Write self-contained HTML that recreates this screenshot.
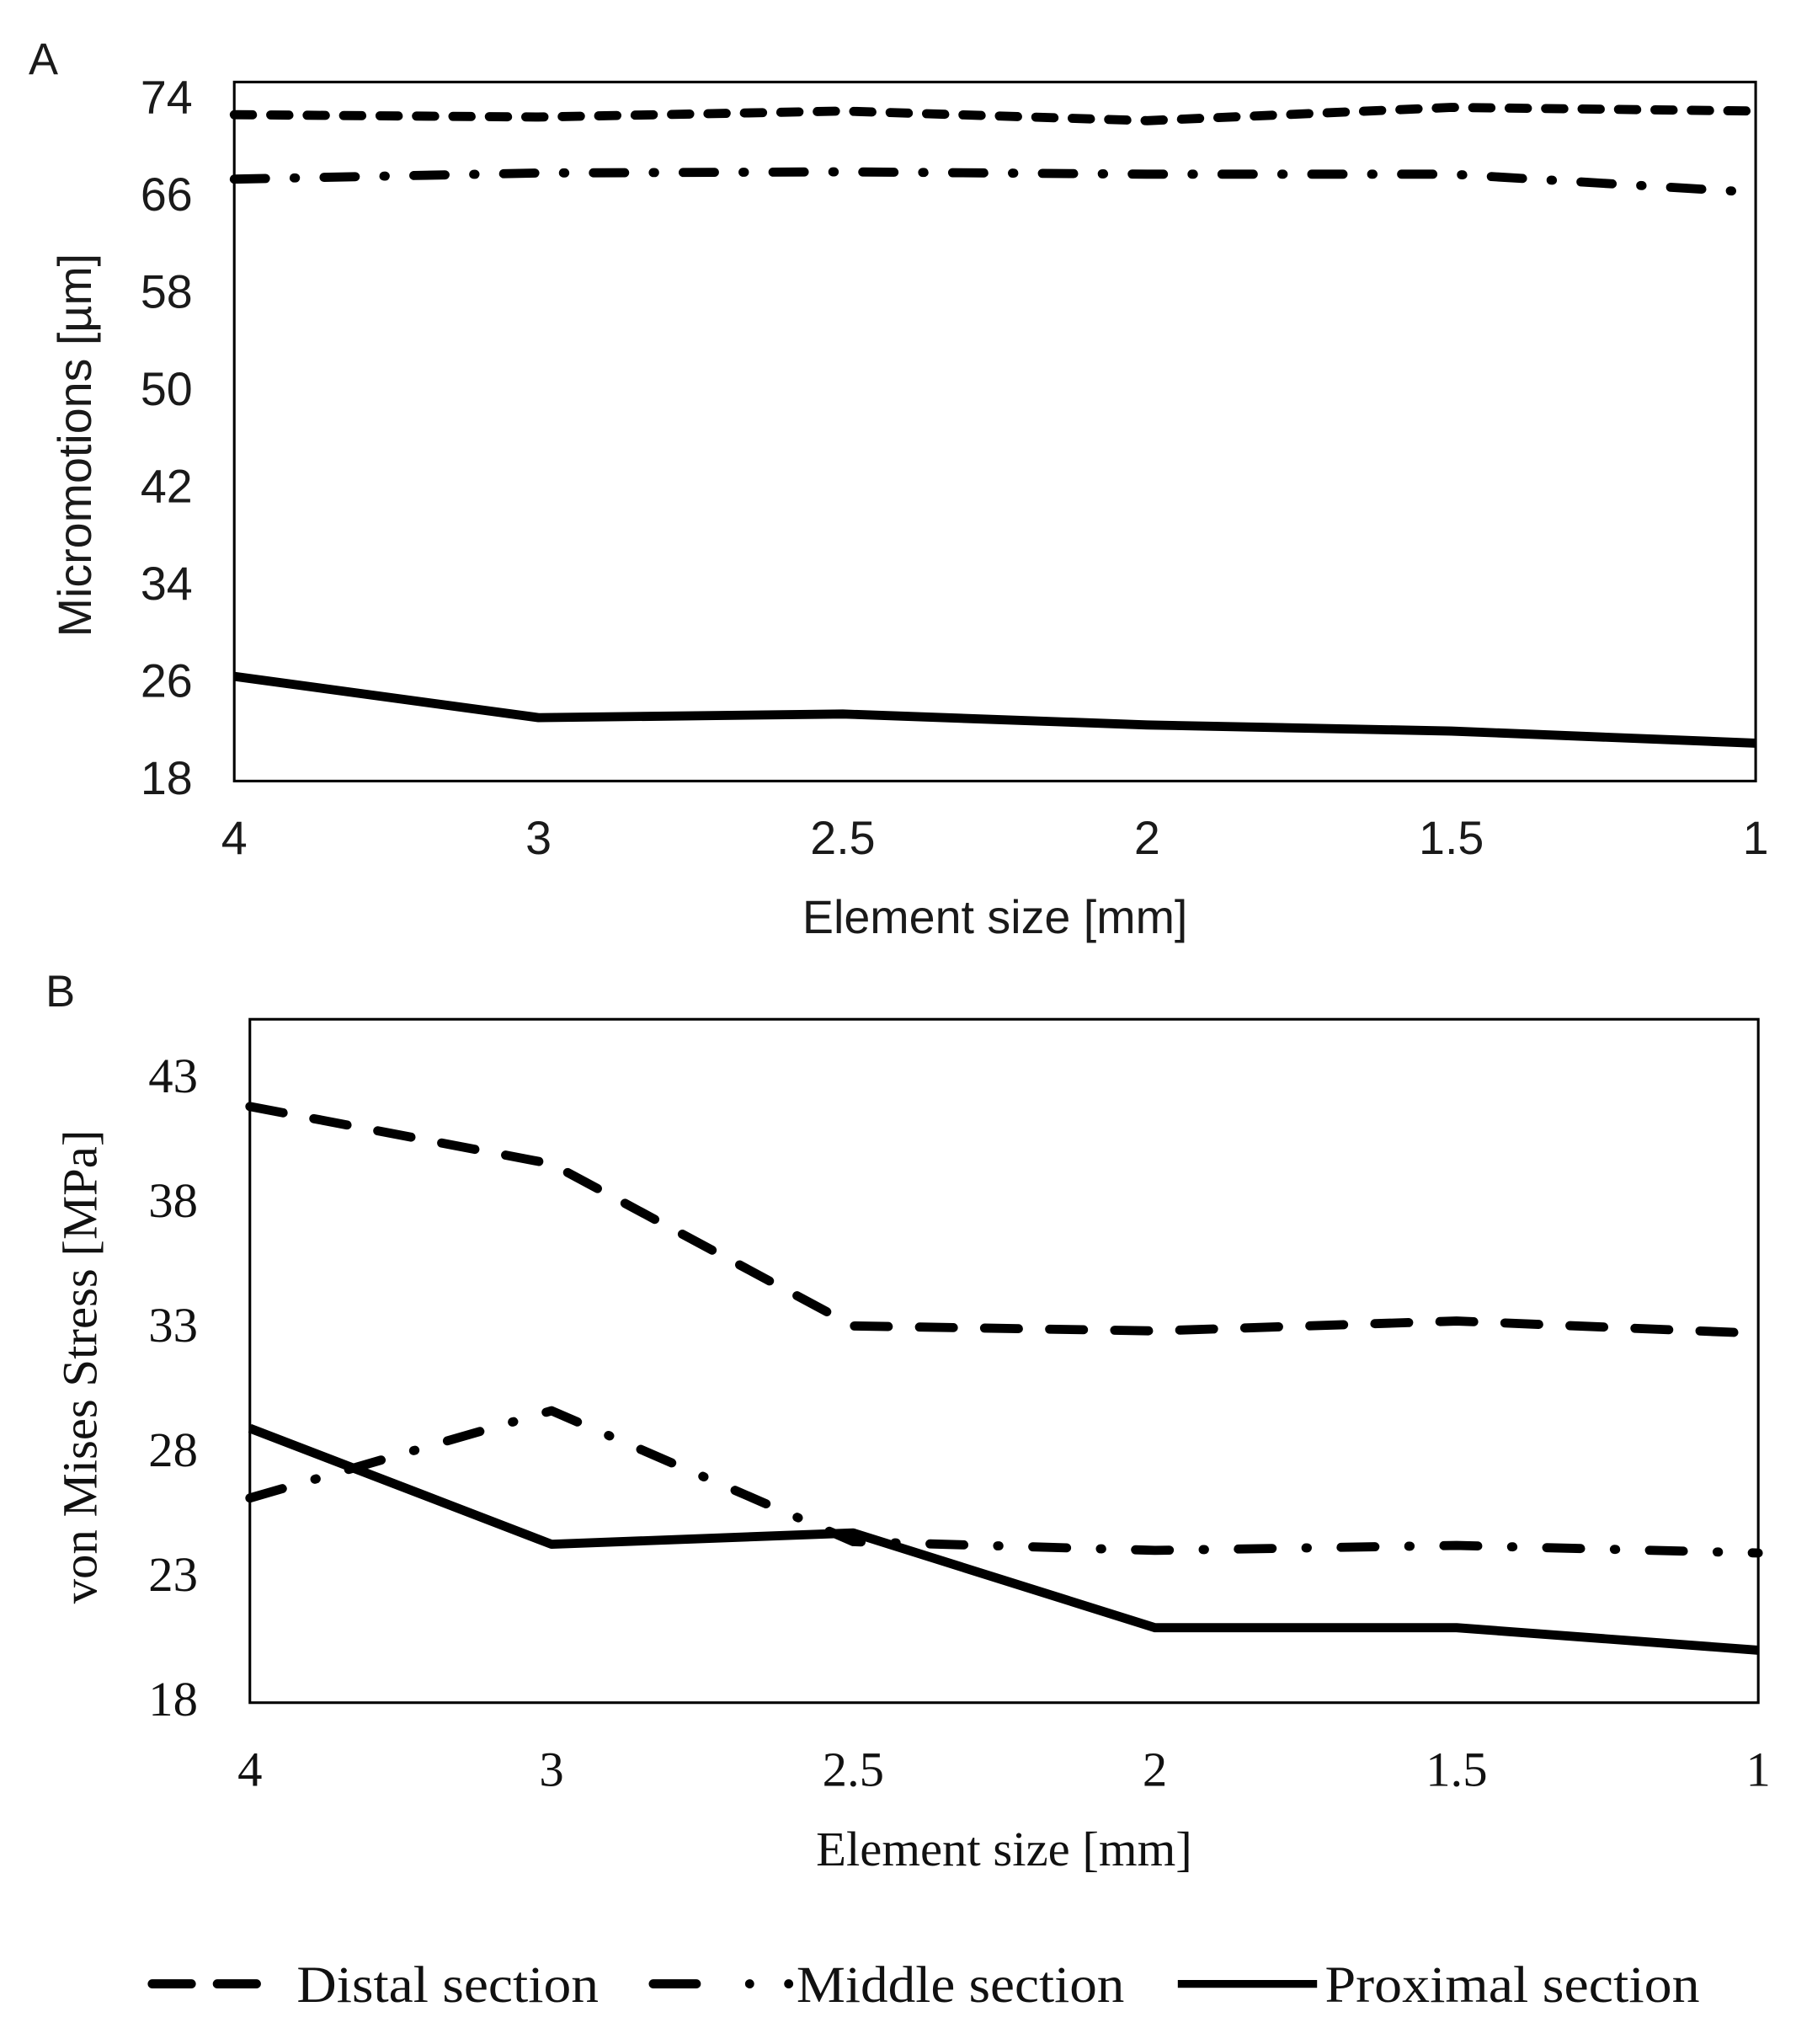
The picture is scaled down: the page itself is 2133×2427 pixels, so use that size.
<!DOCTYPE html>
<html><head><meta charset="utf-8"><style>
html,body{margin:0;padding:0;background:#fff;}
svg{display:block;}
.sans{font-family:"Liberation Sans",sans-serif;fill:#1a1a1a;}
.serif{font-family:"Liberation Serif",serif;fill:#111;}
</style></head><body>
<svg id="fig" width="2133" height="2427" viewBox="0 0 1380 1570.2" xmlns="http://www.w3.org/2000/svg">
<text class="sans" x="22" y="57" font-size="34">A</text>
<text class="sans" x="35" y="773" font-size="34">B</text>
<g id="chartA"></g>
<g id="chartB"></g>
<g id="legend">
 <g>
  <line x1="117" y1="1524" x2="210" y2="1524" stroke="#000" stroke-width="7" stroke-dasharray="30,20" stroke-linecap="round"/>
  <text class="serif" x="228" y="1538" font-size="40" textLength="232" lengthAdjust="spacingAndGlyphs">Distal section</text>
 </g>
 <g>
  <line x1="502" y1="1524" x2="535" y2="1524" stroke="#000" stroke-width="7" stroke-linecap="round"/>
  <circle cx="576" cy="1524" r="3.5" fill="#000"/>
  <circle cx="606" cy="1524" r="3.5" fill="#000"/>
  <text class="serif" x="612" y="1538" font-size="40" textLength="252" lengthAdjust="spacingAndGlyphs">Middle section</text>
 </g>
 <g>
  <line x1="905" y1="1524" x2="1012" y2="1524" stroke="#000" stroke-width="6"/>
  <text class="serif" x="1018" y="1538" font-size="40" textLength="288" lengthAdjust="spacingAndGlyphs">Proximal section</text>
 </g>
</g>
</svg>
<script>
const categories = ["4","3","2.5","2","1.5","1"];
const aTicks = [18,26,34,42,50,58,66,74];
const aDistal = [72.6,72.4,72.9,72.1,73.2,72.9];
const aMiddle = [67.3,67.8,67.9,67.7,67.7,66.2];
const aProximal = [26.4,23.0,23.3,22.4,21.9,20.9];
const bTicks = [18,23,28,33,38,43];
const bDistal = [41.8,39.5,33.0,32.8,33.2,32.7];
const bMiddle = [26.1,29.6,24.35,24.0,24.2,23.9];
const bProximal = [28.9,24.25,24.7,20.9,20.9,20.0];

const NS = "http://www.w3.org/2000/svg";
function mk(tag, attrs, parent){
  const e = document.createElementNS(NS, tag);
  for (const k in attrs) e.setAttribute(k, attrs[k]);
  parent.appendChild(e);
  return e;
}
function drawChart(g, cfg){
  const xs = i => cfg.left + i*(cfg.right-cfg.left)/(categories.length-1);
  const ys = v => cfg.y0 - (v-cfg.vmin)*(cfg.y0-cfg.y1)/(cfg.vmax-cfg.vmin);
  const box = mk('rect',{x:cfg.left,y:cfg.top,width:cfg.right-cfg.left,height:cfg.bottom-cfg.top,fill:'none',stroke:'#000','stroke-width':2},g);
  
  
  cfg.ticks.forEach(t=>{
    const tx = mk('text',{x:cfg.tickX,y:ys(t)+12,'text-anchor':'end','font-size':cfg.fs,class:cfg.cls},g);
    tx.textContent = t;
    
    
  });
  categories.forEach((c,i)=>{
    const tx = mk('text',{x:xs(i),y:cfg.xTickY,'text-anchor':'middle','font-size':cfg.fs,class:cfg.cls},g);
    tx.textContent = c;
    
    
  });
  const xt = mk('text',{x:(cfg.left+cfg.right)/2,y:cfg.xTitleY,'text-anchor':'middle','font-size':cfg.tfs,class:cfg.cls},g);
  xt.textContent = 'Element size [mm]';
  
  
  const yt = mk('text',{x:0,y:0,'text-anchor':'middle','font-size':cfg.tfs,class:cfg.cls,transform:`translate(${cfg.yTitleX},${cfg.yTitleY}) rotate(-90)`},g);
  yt.textContent = cfg.yTitle;
  
  
  cfg.series.forEach(s=>{
    const pts = s.vals.map((v,i)=>xs(i).toFixed(1)+','+ys(v).toFixed(1)).join(' ');
    const p = mk('polyline',{points:pts,fill:'none',stroke:'#000','stroke-width':7,'stroke-linejoin':'round','stroke-linecap':s.dash?'round':'butt'},g);
    if (s.dash) p.setAttribute('stroke-dasharray', s.dash);
    
    
  });
}
drawChart(document.getElementById('chartA'),{
  left:180,right:1349,top:63,bottom:600,y0:598,y1:75,vmin:18,vmax:74,ticks:aTicks,
  tickX:148,xTickY:656,xTitleY:717,yTitleX:70,yTitleY:342,fs:36,tfs:36,cls:'sans',
  yTitle:'Micromotions [µm]',
  series:[
    {name:'line-distal-a',vals:aDistal,dash:'14,14'},
    {name:'line-middle-a',vals:aMiddle,dash:'24,22,1,22'},
    {name:'line-proximal-a',vals:aProximal}
  ]
});
drawChart(document.getElementById('chartB'),{
  left:192,right:1351,top:783,bottom:1308,y0:1306,y1:827,vmin:18,vmax:43,ticks:bTicks,
  tickX:152,xTickY:1372,xTitleY:1433,yTitleX:74,yTitleY:1050,fs:38,tfs:38,cls:'serif',
  yTitle:'von Mises Stress [MPa]',
  series:[
    {name:'line-distal-b',vals:bDistal,dash:'26,24'},
    {name:'line-middle-b',vals:bMiddle,dash:'26,26,1,26'},
    {name:'line-proximal-b',vals:bProximal}
  ]
});
</script>
</body></html>
